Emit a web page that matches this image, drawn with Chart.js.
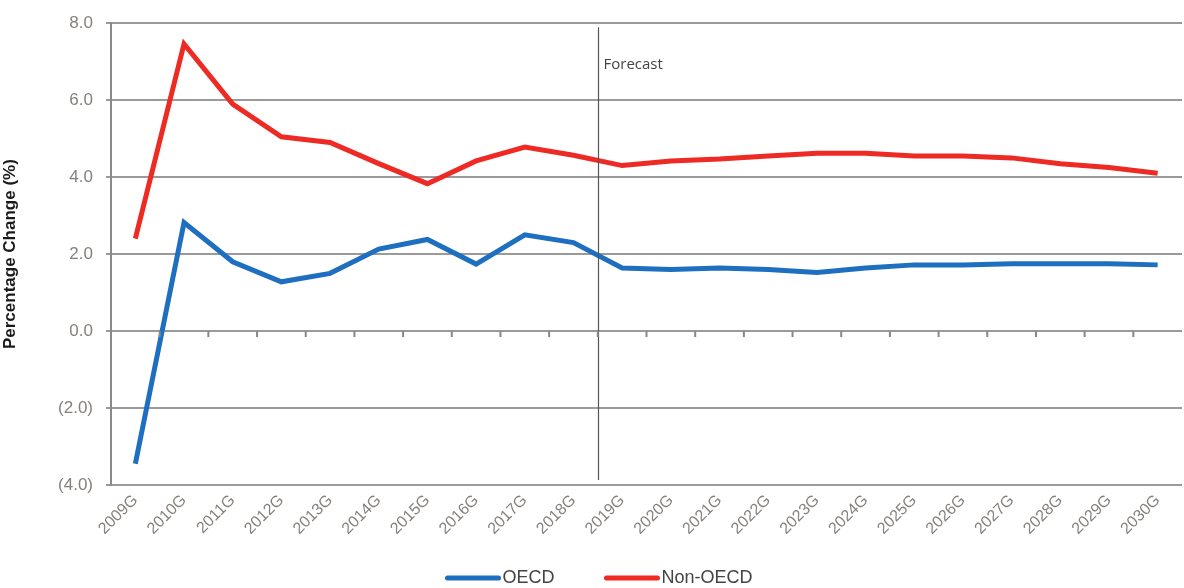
<!DOCTYPE html>
<html>
<head>
<meta charset="utf-8">
<script src="https://cdn.jsdelivr.net/npm/chart.js@4"></script>
<style>
  html, body { margin: 0; padding: 0; background: #fff; }
  #wrap { width: 1184px; height: 588px; position: relative; }
</style>
</head>
<body>
<div id="wrap"><canvas id="growthChart"></canvas></div>
<script>
const years = ['2009G', '2010G', '2011G', '2012G', '2013G', '2014G', '2015G', '2016G', '2017G', '2018G', '2019G',
  '2020G', '2021G', '2022G', '2023G', '2024G', '2025G', '2026G', '2027G', '2028G', '2029G', '2030G'];

const oecd = [-3.45, 2.82, 1.8, 1.28, 1.5, 2.13, 2.38, 1.74, 2.5, 2.3, 1.64,
  1.6, 1.64, 1.6, 1.52, 1.64, 1.72, 1.72, 1.75, 1.75, 1.75, 1.72];

const nonOecd = [2.4, 7.46, 5.9, 5.05, 4.9, 4.35, 3.83, 4.42, 4.78, 4.57, 4.3,
  4.42, 4.47, 4.55, 4.62, 4.62, 4.55, 4.55, 4.5, 4.35, 4.25, 4.1];

// Forecast starts between these two categories
const forecastAfter = 9;
const forecastLabel = 'Forecast';

const tickGrey = '#85807b';
const fontFamily = '"Liberation Sans", Arial, sans-serif';

// Forecast divider + small ticks on the zero line
const forecastPlugin = {
  id: 'forecast',
  afterDatasetsDraw(chart) {
    const { ctx, scales: { x, y }, chartArea } = chart;
    const px = Math.round(x.getPixelForValue(forecastAfter + 0.5)) + 0.5;
    ctx.save();
    ctx.strokeStyle = '#555';
    ctx.lineWidth = 1.2;
    ctx.beginPath();
    ctx.moveTo(px, chartArea.top + 4);
    ctx.lineTo(px, chartArea.bottom - 5);
    ctx.stroke();

    ctx.fillStyle = '#444';
    ctx.font = '15px "Open Sans", sans-serif';
    ctx.textBaseline = 'middle';
    ctx.fillText(forecastLabel, px + 5, chartArea.top + 42);

    const y0 = y.getPixelForValue(0);
    ctx.strokeStyle = '#888';
    ctx.lineWidth = 2;
    for (let i = 0; i < years.length - 1; i++) {
      const tx = x.getPixelForValue(i + 0.5);
      ctx.beginPath();
      ctx.moveTo(tx, y0);
      ctx.lineTo(tx, y0 + 6);
      ctx.stroke();
    }
    ctx.restore();
  }
};

// Legend drawn by hand: line sample glued to the text, wide gap between items
const lineLegendPlugin = {
  id: 'lineLegend',
  afterDraw(chart) {
    const { ctx } = chart;
    const sample = 55;
    const gap = 50;
    const cy = 578;
    ctx.save();
    ctx.font = '18px ' + fontFamily;
    ctx.textBaseline = 'middle';
    const items = chart.data.datasets.map(ds => ({
      label: ds.label,
      color: ds.borderColor,
      w: sample + 2 + ctx.measureText(ds.label).width
    }));
    const total = items.reduce((s, it) => s + it.w, 0) + gap * (items.length - 1);
    let cx = 599 - total / 2;
    items.forEach(it => {
      ctx.strokeStyle = it.color;
      ctx.lineWidth = 5;
      ctx.lineCap = 'round';
      ctx.beginPath();
      ctx.moveTo(cx + 2, cy);
      ctx.lineTo(cx + sample - 2, cy);
      ctx.stroke();
      ctx.fillStyle = '#444';
      ctx.fillText(it.label, cx + sample + 2, cy);
      cx += it.w + gap;
    });
    ctx.restore();
  }
};

const ctx = document.getElementById('growthChart').getContext('2d');

new Chart(ctx, {
  type: 'line',
  data: {
    labels: years,
    datasets: [
      { label: 'OECD', data: oecd, borderColor: '#1f6fc0', borderWidth: 5, pointRadius: 0, tension: 0 },
      { label: 'Non-OECD', data: nonOecd, borderColor: '#ee2a24', borderWidth: 5, pointRadius: 0, tension: 0 }
    ]
  },
  options: {
    responsive: true,
    maintainAspectRatio: false,
    animation: false,
    layout: { padding: { top: 19, right: 2, left: 0, bottom: 0 } },
    plugins: {
      legend: { display: false },
      tooltip: { enabled: false }
    },
    scales: {
      x: {
        offset: true,
        grid: { display: false, drawTicks: false },
        border: { display: false },
        ticks: {
          color: tickGrey,
          minRotation: 45,
          maxRotation: 45,
          padding: 6,
          font: { size: 16, family: fontFamily }
        },
        afterFit(scale) { scale.height = 103; }
      },
      y: {
        min: -4,
        max: 8,
        grid: { color: '#9a9a9a', lineWidth: 2, tickLength: 5 },
        border: { color: '#8a8a8a', width: 2 },
        ticks: {
          stepSize: 2,
          color: tickGrey,
          padding: 13,
          font: { size: 17, family: fontFamily },
          callback: v => v < 0 ? '(' + Math.abs(v).toFixed(1) + ')' : v.toFixed(1)
        },
        title: {
          display: true,
          text: 'Percentage Change (%)',
          color: '#1a1a1a',
          font: { size: 17, weight: 'bold', family: fontFamily },
          padding: { top: 0, bottom: 0 }
        },
        afterFit(scale) { scale.width = 111; }
      }
    }
  },
  plugins: [forecastPlugin, lineLegendPlugin]
});
</script>
</body>
</html>
